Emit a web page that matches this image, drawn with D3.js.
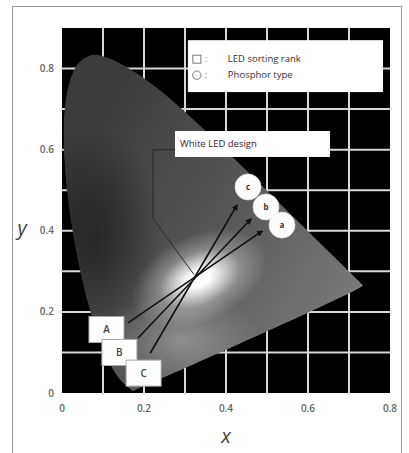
<!DOCTYPE html>
<html><head><meta charset="utf-8">
<script src="https://cdn.jsdelivr.net/npm/d3@7"></script>
<style>html,body{margin:0;padding:0;background:#fff;} svg{display:block;}</style>
</head><body><div id="chart"></div>
<script>
// ---- data ----
const xTicks = [0, 0.2, 0.4, 0.6, 0.8];
const yTicks = [0, 0.2, 0.4, 0.6, 0.8];
const gridX = [0.1, 0.2, 0.3, 0.4, 0.5, 0.6, 0.7];
const gridY = [0.1, 0.2, 0.3, 0.4, 0.5, 0.6, 0.7, 0.8];
// CIE 1931 spectral locus (380-700 nm)
const locusX = [0.1741,0.1738,0.1733,0.1726,0.1714,0.1689,0.1644,0.1611,0.1566,0.1510,0.1440,0.1355,0.1241,0.1096,0.0913,0.0687,0.0454,0.0235,0.0082,0.0039,0.0139,0.0389,0.0743,0.1142,0.1547,0.1929,0.2296,0.2658,0.3016,0.3373,0.3731,0.4087,0.4441,0.4788,0.5125,0.5448,0.5752,0.6029,0.6270,0.6482,0.6658,0.6801,0.6915,0.7006,0.7079,0.7140,0.7190,0.7260,0.7300,0.7334,0.7347];
const locusY = [0.0050,0.0049,0.0048,0.0048,0.0051,0.0069,0.0109,0.0138,0.0177,0.0227,0.0297,0.0399,0.0578,0.0868,0.1327,0.2007,0.2950,0.4127,0.5384,0.6548,0.7502,0.8120,0.8338,0.8262,0.8059,0.7816,0.7543,0.7243,0.6923,0.6589,0.6245,0.5896,0.5547,0.5202,0.4866,0.4544,0.4242,0.3965,0.3725,0.3514,0.3340,0.3197,0.3083,0.2993,0.2920,0.2859,0.2809,0.2740,0.2700,0.2666,0.2653];
const rankLabels = ["A", "B", "C"];
const rankX = [0.1085, 0.140, 0.199];
const rankY = [0.1566, 0.0999, 0.049];
const lineStartX = [0.161, 0.185, 0.215];
const lineStartY = [0.173, 0.135, 0.098];
const lineEndX = [0.488, 0.461, 0.427];
const lineEndY = [0.399, 0.429, 0.4635];
const phosphorLabels = ["c", "b", "a"];
const phosphorX = [0.4537, 0.4976, 0.5366];
const phosphorY = [0.508, 0.4586, 0.414];
const designLabel = "White LED design";
const designBoxX = [0.2756, 0.6537];
const designBoxY = [0.646, 0.582];
const leaderX = [0.2756, 0.222, 0.222, 0.322];
const leaderY = [0.600, 0.600, 0.430, 0.292];
const legendSymbols = ["square", "circle"];
const legendLabels = ["LED sorting rank", "Phosphor type"];
const legendBoxX = [0.307, 0.783];
const legendBoxY = [0.870, 0.742];
const whitePoint = [0.335, 0.282];

// ---- layout ----
const W = 409, H = 453;
const x = d3.scaleLinear().domain([0, 0.8]).range([62, 390]);
const y = d3.scaleLinear().domain([0, 0.9]).range([393, 28]);
const font = "'Open Sans','Noto Sans',Arial,sans-serif";

const svg = d3.select("#chart").append("svg").attr("width", W).attr("height", H);
const defs = svg.append("defs");

svg.append("rect").attr("width", W).attr("height", H).attr("fill", "#fff");
svg.append("rect").attr("x", 12.5).attr("y", 6.5).attr("width", 389).attr("height", H + 10)
  .attr("fill", "none").attr("stroke", "#9a9a9a").attr("stroke-width", 1);

// plot background
svg.append("rect").attr("x", x(0)).attr("y", y(0.9)).attr("width", x(0.8) - x(0)).attr("height", y(0) - y(0.9))
  .attr("fill", "#000");

// grid
svg.append("g").selectAll("line").data(gridX).join("line")
  .attr("x1", d => x(d)).attr("x2", d => x(d)).attr("y1", y(0.9)).attr("y2", y(0) + 1)
  .attr("stroke", "#d8d8d8").attr("stroke-width", 2);
svg.append("g").selectAll("line").data(gridY).join("line")
  .attr("y1", d => y(d)).attr("y2", d => y(d)).attr("x1", x(0) - 1).attr("x2", x(0.8))
  .attr("stroke", "#d8d8d8").attr("stroke-width", 2);

// gamut
const locus = locusX.map((v, i) => [x(v), y(locusY[i])]);
const gamutPath = d3.line().curve(d3.curveCatmullRomClosed)(locus);
defs.append("clipPath").attr("id", "gclip").append("path").attr("d", gamutPath);

const lg = defs.append("linearGradient").attr("id", "base").attr("gradientUnits", "userSpaceOnUse")
  .attr("x1", x(0.05)).attr("y1", y(0.6)).attr("x2", x(0.7)).attr("y2", y(0.2));
lg.append("stop").attr("offset", 0).attr("stop-color", "#3c3c3c");
lg.append("stop").attr("offset", 0.5).attr("stop-color", "#575757");
lg.append("stop").attr("offset", 1).attr("stop-color", "#7a7a7a");

function radial(id, color, stops) {
  const g = defs.append("radialGradient").attr("id", id);
  stops.forEach(s => g.append("stop").attr("offset", s[0]).attr("stop-color", color).attr("stop-opacity", s[1]));
}
radial("dark", "#000", [[0, 0.45], [0.5, 0.25], [1, 0]]);
radial("glowLow", "#fff", [[0, 0.3], [0.5, 0.15], [1, 0]]);
radial("glow", "#fff", [[0, 1], [0.16, 1], [0.35, 0.72], [0.6, 0.28], [1, 0]]);

const gamut = svg.append("g").attr("clip-path", "url(#gclip)");
gamut.append("path").attr("d", gamutPath).attr("fill", "url(#base)");
gamut.append("ellipse").attr("cx", x(0.08)).attr("cy", y(0.38)).attr("rx", 70).attr("ry", 110).attr("fill", "url(#dark)");
gamut.append("ellipse").attr("cx", x(0.29)).attr("cy", y(0.13)).attr("rx", 80).attr("ry", 50).attr("fill", "url(#glowLow)");
gamut.append("ellipse").attr("cx", x(whitePoint[0])).attr("cy", y(whitePoint[1])).attr("rx", 72).attr("ry", 44)
  .attr("transform", `rotate(-25,${x(whitePoint[0])},${y(whitePoint[1])})`).attr("fill", "url(#glow)");

// leader line
svg.append("path").attr("d", d3.line()(leaderX.map((v, i) => [x(v), y(leaderY[i])])))
  .attr("fill", "none").attr("stroke", "#2a2a2a").attr("stroke-width", 1);

// arrows
defs.append("marker").attr("id", "arr").attr("viewBox", "0 0 10 10").attr("refX", 8).attr("refY", 5)
  .attr("markerWidth", 4).attr("markerHeight", 4).attr("orient", "auto")
  .append("path").attr("d", "M0,0L10,5L0,10z").attr("fill", "#111");
svg.append("g").selectAll("line").data(rankLabels).join("line")
  .attr("x1", (d, i) => x(lineStartX[i])).attr("y1", (d, i) => y(lineStartY[i]))
  .attr("x2", (d, i) => x(lineEndX[i])).attr("y2", (d, i) => y(lineEndY[i]))
  .attr("stroke", "#111").attr("stroke-width", 1.6).attr("marker-end", "url(#arr)");

// rank boxes
const rb = svg.append("g").selectAll("g").data(rankLabels).join("g")
  .attr("transform", (d, i) => `translate(${x(rankX[i])},${y(rankY[i])})`);
rb.append("rect").attr("x", -17.5).attr("y", -13).attr("width", 35).attr("height", 26)
  .attr("fill", "#fff").attr("stroke", "#aaa").attr("stroke-width", 1);
rb.append("text").text(d => d).attr("text-anchor", "middle").attr("dy", "0.35em")
  .attr("font-family", font).attr("font-size", 10).attr("font-weight", 600).attr("fill", "#444");

// phosphor circles
const pc = svg.append("g").selectAll("g").data(phosphorLabels).join("g")
  .attr("transform", (d, i) => `translate(${x(phosphorX[i])},${y(phosphorY[i])})`);
pc.append("circle").attr("r", 13).attr("fill", "#fdfdfd").attr("stroke", "#ddd").attr("stroke-width", 0.8);
pc.append("text").text(d => d).attr("text-anchor", "middle").attr("dy", "0.35em")
  .attr("font-family", font).attr("font-size", 8).attr("font-weight", 700).attr("fill", "#333");

// design box
svg.append("rect").attr("x", x(designBoxX[0])).attr("y", y(designBoxY[0]))
  .attr("width", x(designBoxX[1]) - x(designBoxX[0])).attr("height", y(designBoxY[1]) - y(designBoxY[0]))
  .attr("fill", "#fff");
svg.append("text").text(designLabel).attr("x", x(designBoxX[0]) + 5).attr("y", (y(designBoxY[0]) + y(designBoxY[1])) / 2)
  .attr("dy", "0.35em").attr("font-family", font).attr("font-size", 9.5).attr("font-weight", 500).attr("fill", "#3a2228");

// legend
svg.append("rect").attr("x", x(legendBoxX[0])).attr("y", y(legendBoxY[0]))
  .attr("width", x(legendBoxX[1]) - x(legendBoxX[0])).attr("height", y(legendBoxY[1]) - y(legendBoxY[0]))
  .attr("fill", "#fff");
const lgItems = svg.append("g").selectAll("g").data(legendLabels).join("g")
  .attr("transform", (d, i) => `translate(${x(legendBoxX[0])},${y(legendBoxY[0]) + 19 + i * 16})`);
lgItems.each(function (d, i) {
  const g = d3.select(this);
  if (legendSymbols[i] === "square") g.append("rect").attr("x", 5).attr("y", -4).attr("width", 8).attr("height", 8)
    .attr("fill", "none").attr("stroke", "#777").attr("stroke-width", 1);
  else g.append("circle").attr("cx", 9).attr("cy", 0).attr("r", 4.2).attr("fill", "none").attr("stroke", "#777").attr("stroke-width", 1);
});
lgItems.append("text").text(":").attr("x", 17).attr("dy", "0.35em").attr("font-family", font).attr("font-size", 9).attr("fill", "#777");
lgItems.append("text").text(d => d).attr("x", 40).attr("dy", "0.35em")
  .attr("font-family", font).attr("font-size", 9.5).attr("font-weight", 500).attr("fill", "#333");

// tick labels
svg.append("g").selectAll("text").data(xTicks).join("text").text(d => d3.format("")(d))
  .attr("x", d => x(d)).attr("y", 408).attr("dy", "0.35em").attr("text-anchor", "middle")
  .attr("font-family", font).attr("font-size", 10).attr("font-weight", 600).attr("fill", "#666");
svg.append("g").selectAll("text").data(yTicks).join("text").text(d => d3.format("")(d))
  .attr("x", 54).attr("y", d => y(d)).attr("dy", "0.35em").attr("text-anchor", "end")
  .attr("font-family", font).attr("font-size", 10).attr("font-weight", 600).attr("fill", "#666");

// axis titles
svg.append("text").text("x").attr("x", x(0.4)).attr("y", 436).attr("dy", "0.35em").attr("text-anchor", "middle")
  .attr("font-family", font).attr("font-size", 20).attr("font-style", "italic").attr("font-weight", 500).attr("fill", "#444");
svg.append("text").text("y").attr("x", 22).attr("y", 228).attr("dy", "0.35em").attr("text-anchor", "middle")
  .attr("font-family", font).attr("font-size", 20).attr("font-style", "italic").attr("font-weight", 500).attr("fill", "#444");
</script></body></html>
